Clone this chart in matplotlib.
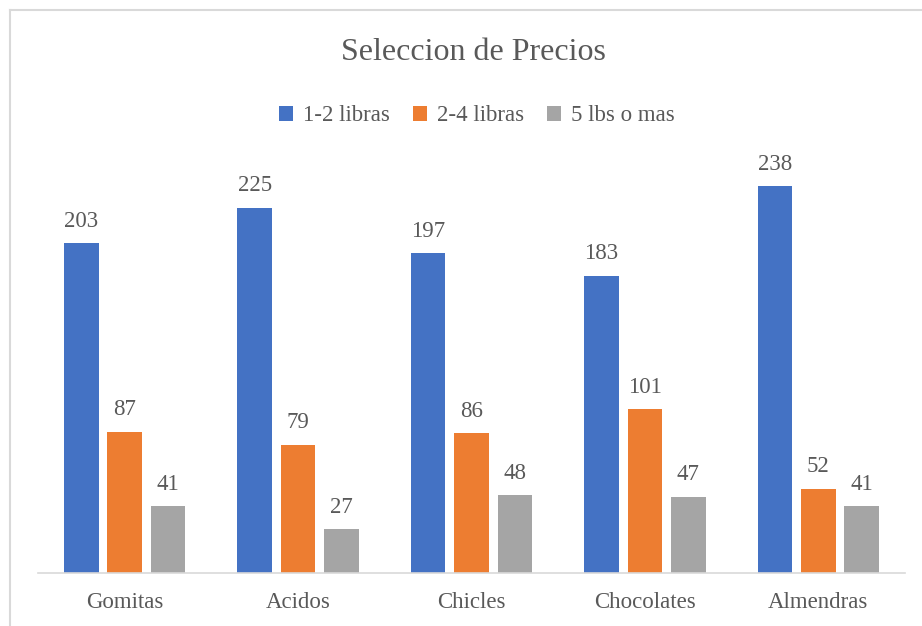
import matplotlib
matplotlib.use("Agg")
import matplotlib.pyplot as plt
import numpy as np
from matplotlib.lines import Line2D
from matplotlib.patches import Patch

categories = ["Gomitas", "Acidos", "Chicles", "Chocolates", "Almendras"]
series_names = ["1-2 libras", "2-4 libras", "5 lbs o mas"]
s1 = [203, 225, 197, 183, 238]
s2 = [87, 79, 86, 101, 52]
s3 = [41, 27, 48, 47, 41]
colors = ["#4472C4", "#ED7D31", "#A5A5A5"]

plt.rcParams['font.family'] = ['Liberation Serif', 'DejaVu Serif']
txt = "#595959"

fig = plt.figure(figsize=(9.22, 6.26), dpi=100)
W, H = 922, 626
ax = fig.add_axes([38 / W, (H - 573) / H, 867 / W, 406 / H])

x = np.arange(len(categories))
bw = 0.2
offs = [-0.25, 0.0, 0.25]
for vals, off, c, name in zip([s1, s2, s3], offs, colors, series_names):
    bars = ax.bar(x + off, vals, width=bw, color=c, label=name, zorder=2)
    for b, v in zip(bars, vals):
        ax.text(b.get_x() + b.get_width() / 2, v + 7, str(v), ha='center', va='bottom',
                fontsize=16.5, color=txt)

ax.set_xlim(-0.5, 4.5)
ax.set_ylim(0, 250)
ax.set_yticks([])
ax.set_xticks(x)
ax.set_xticklabels(categories, fontsize=16.5, color=txt)
ax.tick_params(axis='x', length=0, pad=14)
for sp in ['top', 'right', 'left']:
    ax.spines[sp].set_visible(False)
ax.spines['bottom'].set_color('#d9d9d9')
ax.spines['bottom'].set_linewidth(1.2)

fig.text(473 / W, 1 - 52 / H, "Seleccion de Precios", ha='center', va='center',
         fontsize=23, color=txt)

handles = [Patch(facecolor=c, label=n) for c, n in zip(colors, series_names)]
fig.legend(handles=handles, loc='center', bbox_to_anchor=(477 / W, 1 - 116 / H),
           ncol=3, frameon=False, fontsize=16.5, labelcolor=txt,
           handlelength=0.6, handleheight=0.6, handletextpad=0.45, columnspacing=1.0)

# chart border (partially cropped)
fig.add_artist(Line2D([9.5 / W, 9.5 / W], [0, 1 - 10 / H], transform=fig.transFigure,
                      color='#d9d9d9', lw=1.5))
fig.add_artist(Line2D([9.5 / W, 1], [1 - 10 / H, 1 - 10 / H], transform=fig.transFigure,
                      color='#d9d9d9', lw=1.5))

fig.savefig("out.png", dpi=100)
